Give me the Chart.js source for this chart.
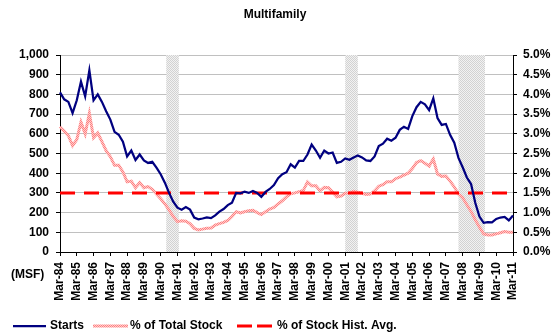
<!DOCTYPE html>
<html>
<head>
<meta charset="utf-8">
<title>Multifamily</title>
<script src="https://cdn.jsdelivr.net/npm/chart.js@4.4.0/dist/chart.umd.min.js"></script>
<style>
    html, body { margin: 0; padding: 0; background: #fff; }
    #wrap { width: 556px; height: 334px; position: relative; }
</style>
</head>
<body>
<div id="wrap"><canvas id="mfChart"></canvas></div>
<script>
// Quarter labels, Mar-84 through Mar-11
const quarterMonths = ['Mar', 'Jun', 'Sep', 'Dec'];
const quarters = [];
for (let yr = 1984; yr <= 2011; yr++) {
    quarterMonths.forEach(m => {
        if (yr === 2011 && m !== 'Mar') return;
        quarters.push(m + '-' + String(yr % 100).padStart(2, '0'));
    });
}

// Multifamily starts (MSF), quarterly
const starts = [
    810, 775, 762, 705, 770, 865, 790, 922, 770, 800, 762, 715, 672, 610, 595, 560, 485, 515, 467,
    495, 465, 452, 458, 428, 395, 352, 300, 255, 225, 215, 228, 215, 175, 166, 170, 176, 172, 186,
    205, 218, 238, 250, 300, 298, 306, 300, 310, 300, 280, 305, 320, 340, 375, 395, 405, 445, 428, 462, 462, 495,
    545, 515, 478, 515, 500, 505, 452, 458, 475, 468, 480, 490, 480, 465, 462, 485, 538, 550, 575, 565, 580,
    620, 636, 625, 690, 735, 762, 750, 720, 780, 680, 645, 650, 595, 555, 478, 430, 378, 345, 250, 180,
    148, 152, 150, 168, 175, 178, 160, 185
];

// Starts as % of total stock
const pctOfStock = [
    3.18, 3.07, 2.95, 2.70, 2.85, 3.30, 3.00, 3.52, 2.90, 3.02, 2.80, 2.57, 2.42, 2.20, 2.20, 2.03, 1.78, 1.80, 1.63,
    1.76, 1.63, 1.66, 1.59, 1.47, 1.35, 1.22, 1.07, 0.90, 0.77, 0.79, 0.78, 0.72, 0.60, 0.56, 0.58, 0.60, 0.61, 0.68,
    0.72, 0.75, 0.80, 0.90, 1.02, 0.99, 1.02, 1.05, 1.06, 1.00, 0.95, 1.02, 1.09, 1.13, 1.22, 1.30, 1.40, 1.48, 1.50, 1.53, 1.56, 1.78,
    1.68, 1.68, 1.55, 1.64, 1.63, 1.52, 1.40, 1.42, 1.49, 1.50, 1.54, 1.52, 1.49, 1.46, 1.47, 1.55, 1.67, 1.71, 1.78, 1.78, 1.86,
    1.90, 1.95, 2.00, 2.12, 2.27, 2.32, 2.25, 2.18, 2.36, 1.98, 1.92, 1.93, 1.80, 1.65, 1.47, 1.38, 1.20, 1.03, 0.82, 0.63,
    0.46, 0.43, 0.43, 0.46, 0.49, 0.52, 0.50, 0.50
];

const HIST_AVG = 1.5;

// Recessions [start month, month after end]
const recessions = [
    ['Jul-90', 'Apr-91'],
    ['Mar-01', 'Dec-01'],
    ['Dec-07', 'Jul-09']
];

const leftTicks = { min: 0, max: 1000, step: 100 };
const rightTicks = { min: 0, max: 5, step: 0.5 };

const FONT = '"Liberation Sans", Arial, sans-serif';
const colors = {
    starts: '#000080',
    avg: '#ff0000',
    grid: '#c0c0c0',
    axis: '#000000'
};

const MONTHS = ['Jan', 'Feb', 'Mar', 'Apr', 'May', 'Jun', 'Jul', 'Aug', 'Sep', 'Oct', 'Nov', 'Dec'];

// month label -> fractional quarter index on the category axis
function toQuarterIndex(label) {
    const [m, y] = label.split('-');
    const year = 1900 + Number(y) + (Number(y) < 50 ? 100 : 0);
    const months = (year - 1984) * 12 + MONTHS.indexOf(m) - 2;
    return months / 3;
}

function makePattern(ctx, dot, base) {
    const c = document.createElement('canvas');
    c.width = 2;
    c.height = 2;
    const g = c.getContext('2d');
    g.fillStyle = base;
    g.fillRect(0, 0, 2, 2);
    g.fillStyle = dot;
    g.fillRect(0, 0, 1, 1);
    g.fillRect(1, 1, 1, 1);
    return ctx.createPattern(c, 'repeat');
}

const canvas = document.getElementById('mfChart');
const ctx = canvas.getContext('2d');
const pinkPattern = makePattern(ctx, '#ff8080', '#ffcccc');
const bandPattern = makePattern(ctx, '#d2d2d2', '#f2f2f2');

// shaded recession bands, under the lines but over the grid
const recessionBands = {
    id: 'recessionBands',
    beforeDatasetsDraw(chart) {
        const { ctx, chartArea, scales: { x } } = chart;
        ctx.save();
        ctx.fillStyle = bandPattern;
        recessions.forEach(([a, b]) => {
            const x0 = x.getPixelForValue(toQuarterIndex(a));
            const x1 = x.getPixelForValue(toQuarterIndex(b));
            ctx.fillRect(x0, chartArea.top, x1 - x0, chartArea.bottom - chartArea.top);
        });
        ctx.restore();
    }
};

// title, unit label and legend
const decorations = {
    id: 'decorations',
    afterDraw(chart) {
        const { ctx } = chart;
        ctx.save();
        ctx.fillStyle = '#000';
        ctx.textBaseline = 'middle';
        ctx.font = 'bold 12px ' + FONT;

        ctx.textAlign = 'center';
        ctx.fillText('Multifamily', 275, 15);

        ctx.textAlign = 'left';
        ctx.fillText('(MSF)', 11, 275);

        const ly = 326;
        ctx.lineCap = 'butt';

        ctx.strokeStyle = colors.starts;
        ctx.lineWidth = 2.25;
        ctx.beginPath();
        ctx.moveTo(13, ly);
        ctx.lineTo(46, ly);
        ctx.stroke();
        ctx.fillText('Starts', 50, ly);

        ctx.strokeStyle = pinkPattern;
        ctx.lineWidth = 3;
        ctx.beginPath();
        ctx.moveTo(93, ly);
        ctx.lineTo(128, ly);
        ctx.stroke();
        ctx.fillText('% of Total Stock', 130, ly);

        ctx.strokeStyle = colors.avg;
        ctx.lineWidth = 3;
        ctx.setLineDash([15, 5]);
        ctx.beginPath();
        ctx.moveTo(237, ly);
        ctx.lineTo(273, ly);
        ctx.stroke();
        ctx.setLineDash([]);
        ctx.fillText('% of Stock Hist. Avg.', 277, ly);

        ctx.restore();
    }
};

const tickFont = { family: FONT, size: 12, weight: 'bold' };

new Chart(ctx, {
    type: 'line',
    data: {
        labels: quarters,
        datasets: [
            {
                label: 'Starts',
                data: starts,
                yAxisID: 'y',
                borderColor: colors.starts,
                borderWidth: 2.25,
                order: 0
            },
            {
                label: '% of Total Stock',
                data: pctOfStock,
                yAxisID: 'y1',
                borderColor: pinkPattern,
                borderWidth: 3,
                order: 2
            },
            {
                label: '% of Stock Hist. Avg.',
                data: quarters.map(() => HIST_AVG),
                yAxisID: 'y1',
                borderColor: colors.avg,
                borderWidth: 3,
                borderDash: [15, 9],
                order: 1
            }
        ]
    },
    options: {
        responsive: true,
        maintainAspectRatio: false,
        animation: false,
        layout: {
            padding: { top: 55, left: 0, right: 0, bottom: 0 }
        },
        elements: {
            point: { radius: 0 },
            line: { tension: 0, fill: false }
        },
        plugins: {
            legend: { display: false },
            title: { display: false },
            tooltip: { enabled: false }
        },
        scales: {
            x: {
                type: 'category',
                offset: false,
                grid: {
                    drawOnChartArea: false,
                    drawTicks: true,
                    tickLength: 4,
                    tickColor: colors.axis
                },
                border: { color: colors.axis, width: 1 },
                ticks: {
                    autoSkip: false,
                    maxRotation: 90,
                    minRotation: 90,
                    padding: 6,
                    color: '#000',
                    font: tickFont,
                    callback(value, index) {
                        return index % 4 === 0 ? this.getLabelForValue(value) : null;
                    }
                },
                afterFit(scale) {
                    scale.height = 82;
                }
            },
            y: {
                position: 'left',
                min: leftTicks.min,
                max: leftTicks.max,
                grid: {
                    color: colors.grid,
                    tickColor: colors.axis,
                    tickLength: 4
                },
                border: { color: colors.axis, width: 1 },
                ticks: {
                    stepSize: leftTicks.step,
                    padding: 7,
                    color: '#000',
                    font: tickFont,
                    callback: v => v.toLocaleString('en-US')
                },
                afterFit(scale) {
                    scale.width = 60;
                }
            },
            y1: {
                position: 'right',
                min: rightTicks.min,
                max: rightTicks.max,
                grid: {
                    drawOnChartArea: false,
                    tickColor: colors.axis,
                    tickLength: 4
                },
                border: { color: colors.axis, width: 1 },
                ticks: {
                    stepSize: rightTicks.step,
                    padding: 6,
                    color: '#000',
                    font: tickFont,
                    callback: v => v.toFixed(1) + '%'
                },
                afterFit(scale) {
                    scale.width = 43;
                }
            }
        }
    },
    plugins: [recessionBands, decorations]
});
</script>
</body>
</html>
